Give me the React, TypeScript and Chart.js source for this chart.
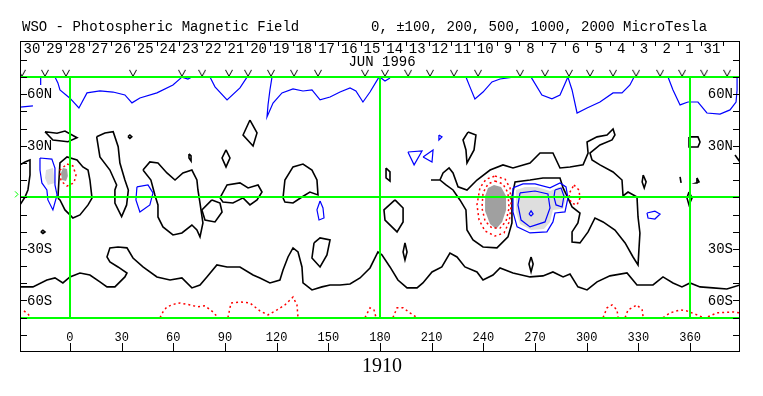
import React, { useEffect, useRef } from 'react';
import { Chart, registerables } from 'chart.js';
Chart.register(...registerables);

type P = [number, number];

// ---- axes / annotations ----
const titleLeft = 'WSO - Photospheric Magnetic Field';
const titleRight = '0, \u00b1100, 200, 500, 1000, 2000 MicroTesla';
const monthLabel = 'JUN 1996';
const rotationLabel = '1910';
const lonTicks = [0, 30, 60, 90, 120, 150, 180, 210, 240, 270, 300, 330, 360];
const latTicks = [-80, -70, -60, -50, -40, -30, -20, -10, 0, 10, 20, 30, 40, 50, 60, 70, 80];
const latLabelValues = [60, 30, -30, -60];
const latLabelTexts = ['60N', '30N', '30S', '60S'];
const gridLon = [0, 180, 360];
const gridLat = [70, 0, -70];
const dayLabels = [30, 29, 28, 27, 26, 25, 24, 23, 22, 21, 20, 19, 18, 17, 16, 15, 14, 13, 12, 11, 10, 9, 8, 7, 6, 5, 4, 3, 2, 1, 31];
const dayLabelLon = [-22.1, -8.9, 4.2, 17.4, 30.6, 43.7, 56.9, 70.0, 83.2, 96.4, 109.5, 122.7, 135.8, 149.0, 162.2, 175.3, 188.5, 201.6, 214.8, 228.0, 241.1, 254.3, 267.4, 280.6, 293.8, 306.9, 320.1, 333.2, 346.4, 359.6, 372.7];
const daySepLon = [-15.5, -2.3, 10.8, 24.0, 37.1, 50.3, 63.5, 76.6, 89.8, 102.9, 116.1, 129.3, 142.4, 155.6, 168.7, 181.9, 195.1, 208.2, 221.4, 234.5, 247.7, 260.9, 274.0, 287.2, 300.3, 313.5, 326.7, 339.8, 353.0, 366.1, 379.3];
const obsMarkLon = [-27.9, -14.5, -2.3, 36.6, 65.0, 76.7, 92.3, 103.4, 116.7, 130.1, 144.0, 171.3, 182.9, 196.3, 209.0, 222.9, 236.9, 261.3, 275.8, 289.7, 301.9, 315.3, 328.7, 342.6, 355.4, 368.2, 381.5];
const obsMarkLat = 72.5;

// ---- neutral lines (black) ----
const k1: P[] = [[-29, 18.9], [-26.1, 20.6], [-23.2, 21.8], [-23.2, 13], [-24.4, 4.3], [-26.1, 0.2], [-29, -4.4]];
const k2: P[] = [[-7, -0.4], [-5.8, 20], [-1.7, 23.5], [4.1, 21.8], [7.5, 17.7], [10.5, 15.9], [11.6, 10.1], [12.8, -0.4], [10.5, -4.4], [5.8, -10.2], [1.7, -12], [0, -10.2], [-2.9, -7.3], [-5.8, -1.5], [-7, -0.4]];
const k3: P[] = [[-14.5, 38.2], [-7.5, 37.3], [-2.9, 38.6], [4.1, 34.7], [-1.2, 32.4], [-9.9, 33.4], [-14.5, 38.2]];
const k4: P[] = [[33.7, 35.3], [34.8, 36.3], [35.9, 35.3], [34.8, 34.3], [33.7, 35.3]];
const k5: P[] = [[15.5, 35.3], [20.3, 37.5], [25.1, 38.2], [28, 29.5], [29, 20], [31.9, 10.1], [33.9, 4.3], [32.9, -4.4], [30, -11.2], [26.1, -3.3], [26.1, 4.3], [27.1, 7.2], [23.2, 15.9], [17.4, 23.5], [15.5, 35.3]];
const k6: P[] = [[42.4, 15.9], [47, 10.1], [49.3, 1.4], [51.1, -4.4], [51.1, -11.4], [54, -17.2], [59.8, -21.9], [65, -20.7], [70.8, -16.1], [73.7, -19], [75.5, -23], [77.2, -14.9], [75.5, -3.3], [74.3, 4.3], [73.7, 10.1], [70.8, 15.9], [65.6, 14.2], [61, 10.1], [56.3, 14.2], [51.1, 20], [46.4, 20.6], [42.4, 15.9]];
const k7: P[] = [[104.5, 45], [108.6, 37.5], [106.3, 29.9], [100.5, 36.3], [104.5, 45]];
const k8: P[] = [[90.6, 27.6], [92.9, 22.9], [90.6, 17.7], [88.3, 22.9], [90.6, 27.6]];
const k9: P[] = [[69.1, 25.3], [70.3, 24.1], [70.3, 21.2], [69.1, 22.9], [69.1, 25.3]];
const k10: P[] = [[87.1, -0.3], [91.2, 7.2], [98.7, 8.4], [103.4, 5.5], [109.2, 7.2], [111.5, 3.1], [108.6, -1.5], [104.5, -4.4], [100.5, -0.3], [94.6, -3.3], [88.8, -2.7], [87.1, -0.3]];
const k11: P[] = [[82.4, -1.5], [87.1, -3.3], [88.3, -8.5], [84.2, -14.3], [78.4, -13.2], [76.6, -7.3], [82.4, -1.5]];
const k12: P[] = [[123.7, -0.3], [124.8, 10.1], [129.5, 17.7], [135.3, 19.4], [140.5, 15.9], [143.4, 10.1], [144, 1.4], [139.3, 3.1], [134.7, 0.2], [129.5, -3.3], [124.8, -2.7], [123.7, -0.3]];
const k13: P[] = [[141.7, -26.5], [145.2, -23.6], [151, -24.8], [149.2, -33.5], [145.2, -40.5], [140.5, -35.3], [141.7, -26.5]];
const k14: P[] = [[183.5, 17.1], [185.8, 14.8], [185.8, 9.5], [183.5, 11.3], [183.5, 17.1]];
const k15: P[] = [[188.7, -1.5], [193.4, -6.2], [193.4, -14.3], [189.9, -20.1], [182.9, -13.2], [182.3, -7.3], [188.7, -1.5]];
const k16: P[] = [[194.5, -26.5], [195.7, -31.8], [194.5, -36.4], [193.4, -31.8], [194.5, -26.5]];
const k17: P[] = [[231.1, 38], [235.7, 36.3], [234.6, 27.6], [230.5, 20], [229.9, 27.6], [228.2, 33.4], [231.1, 38]];
const k18: P[] = [[209.6, 10.1], [214.8, 10.1], [216.6, 14.2], [220.1, 17.1], [222.4, 14.2], [225.3, 6.1], [230.5, 4.3], [236.3, 10.1], [243.9, 15.9], [251.4, 18.9], [257.2, 17.1], [267.1, 20], [272.9, 25.8], [280.4, 25.8], [284.5, 17.1], [290.3, 17.7], [297.9, 18.9], [300.8, 25.8], [300.2, 32.2], [306, 35.2], [311.8, 36.3], [315.3, 39.8], [316.4, 36.3], [314.7, 33.4], [307.7, 30.5], [301.9, 25.8], [303.1, 21.8], [307.7, 18.9], [315.3, 14.8], [320.5, 10.1], [321.1, 0.8], [324, 3.1], [329.2, 0.2], [329.8, -11.4], [330.9, -20.7], [329.8, -39.3], [326.9, -34.7], [322.3, -26.5], [316.4, -19], [309.5, -14.3], [304.8, -12], [300.8, -20.1], [296.1, -26.5], [291.5, -26], [291.5, -20.1], [294.9, -14.9], [296.1, -9.1], [291.5, -5.6], [289.1, -0.3], [286.3, 5.5], [284.5, 11.3], [274.6, 11.3], [267.1, 10.1], [258.4, 9], [256.6, 0.2], [256.6, -14.9], [254.3, -23], [247.9, -29.4], [239.8, -28.9], [234, -24.8], [230.5, -19], [229.9, -7.3], [226.4, -1.5], [222.4, 4.3], [218.3, 7.2], [214.8, 10.1], [209.6, 10.1]];
const k19: P[] = [[267.7, -34.7], [268.9, -38.8], [267.7, -43.4], [266.5, -38.8], [267.7, -34.7]];
const k20: P[] = [[332.8, 13], [334.5, 9], [333.4, 5.5], [332.2, 9], [332.8, 13]];
const k21: P[] = [[354.2, 11.9], [354.8, 8.4]];
const k22: P[] = [[364, 11.3], [365.2, 9], [363.5, 8.4], [364, 11.3]];
const k23: P[] = [[359.4, 35.2], [364.6, 35.2], [365.8, 32.2], [364.6, 29.3], [359.4, 29.3], [359.4, 35.2]];
const k24: P[] = [[359.4, 3.1], [361.2, -0.3], [359.4, -4.4], [358.2, -0.3], [359.4, 3.1]];
const k25: P[] = [[386.1, 24.7], [389, 20.6]];
const k26: P[] = [[-16.9, -20.1], [-15.7, -19.2], [-14.5, -20.1], [-15.7, -21], [-16.9, -20.1]];
const k27: P[] = [[-29, -52.1], [-21.5, -52.1], [-13.4, -48.1], [-8.7, -46.9], [-4.1, -49.8], [0, -46.3], [5.8, -44], [11.6, -45.2], [17.4, -49.2], [21.5, -52.1], [26.1, -52.1], [31.9, -46.3], [33.1, -44], [27.9, -40.5], [23.2, -37.6], [21.5, -34.7], [23.2, -29.4], [27.9, -28.9], [33.1, -29.4], [36.6, -35.3], [42.4, -40.5], [50.5, -46.3], [58.1, -48.1], [65, -46.9], [70.8, -52.7], [75.5, -51], [79.5, -46.3], [85.3, -39.3], [91.2, -40.5], [98.7, -40.5], [106.3, -45.2], [110.3, -46.9], [116.1, -49.8], [121.9, -48.1], [123.7, -42.3], [126.6, -34.7], [129.5, -29.4], [132.4, -31.8], [134.7, -40.5], [135.3, -49.8], [140.5, -53.9], [146.3, -52.1], [151, -51], [156.8, -51], [162.6, -50.4], [168.4, -46.9], [174.2, -41.1], [178.8, -31.8], [181.1, -33.5], [185.8, -40.5], [190.4, -48.1], [195.7, -52.7], [201.5, -52.7], [204.9, -49.8], [210.2, -43.4], [215.9, -40.5], [220.6, -32.4], [224.7, -34.7], [229.3, -40.5], [236.3, -43.4], [239.8, -48.1], [245.6, -45.2], [249.7, -41.1], [257.2, -44], [267.1, -46.3], [274.6, -45.7], [280.4, -43.4], [286.3, -46.3], [290.3, -44.6], [294.9, -52.1], [300.2, -53.9], [306, -49.2], [313.5, -45.7], [323.4, -44], [329.2, -51], [338.5, -51], [344.3, -46.3], [350.1, -49.8], [355.3, -52.1], [360, -49.8], [365.8, -52.1], [373.3, -52.7], [381.4, -53.3], [389, -51]];

// ---- positive contours (blue) ----
const b1: P[] = [[-29, 52.5], [-21.5, 53.2]];
const b2: P[] = [[-17, 70], [-17, 65.4]];
const b3: P[] = [[-8.7, 70], [-7, 66.6], [-5.8, 62.5], [0, 57.7], [5.2, 52], [9.9, 60.8], [17.4, 62], [25, 61.3], [31.9, 59.6], [36, 55], [40.6, 57.8], [50.5, 60.8], [59.8, 65.4], [65, 70]];
const b4: P[] = [[65, 70], [68.5, 68.8], [70.8, 70]];
const b5: P[] = [[81.3, 70], [84.2, 64.3], [91.2, 56.7], [98.7, 63.7], [102.8, 70]];
const b6: P[] = [[117.3, 70], [116.1, 62.5], [115, 53.8], [114.4, 46.8], [117.9, 54.9], [123.1, 60.8], [129.5, 63.1], [135.3, 61.9], [140.5, 62.5], [145.2, 56.7], [151, 58.4], [156.8, 61.3], [162.6, 63.7], [166, 61.9], [170.1, 55.5], [174.2, 61.3], [179.4, 70]];
const b7: P[] = [[180.6, 69.5], [182.9, 67.7], [185.8, 69.5]];
const b8: P[] = [[229.9, 70], [232.2, 64.3], [235.1, 57.3], [239.8, 61.3], [245, 67.2], [249.7, 68.9], [257.2, 70]];
const b9: P[] = [[267.7, 70], [274, 59.6], [279.8, 57.3], [284.5, 59.6], [289.1, 70]];
const b10: P[] = [[289.1, 70], [291.5, 62.5], [294.4, 49.1], [300.2, 52], [307.7, 55.5], [315.3, 60.8], [320.5, 60.8], [325.1, 65.4], [327.5, 70]];
const b11: P[] = [[347.2, 70], [350.1, 62.5], [354.2, 53.8], [358.8, 55.5], [364.6, 55.5], [369.8, 49.1], [377.4, 48.5], [383.2, 50.9], [386.7, 55.5], [387.3, 62.5], [387.3, 70]];
const b12: P[] = [[-17.4, 22.9], [-10.5, 22.3], [-8.7, 17.1], [-8.7, 7.2], [-7.5, 1.4], [-9.9, -7.3], [-12.8, -1.5], [-13.4, 4.3], [-16.3, 8.4], [-17.4, 15.9], [-17.4, 22.9]];
const b13: P[] = [[38.9, 6.1], [45.3, 7.2], [48.2, 2.6], [46.4, -4.4], [40.6, -8.5], [38.3, -1.5], [38.9, 6.1]];
const b14: P[] = [[145.2, -2.1], [146.9, -6.2], [147.5, -12], [144.6, -13.2], [143.4, -7.3], [145.2, -2.1]];
const b15: P[] = [[196.2, 26.4], [204.4, 27], [199.8, 18.9], [196.2, 26.4]];
const b16: P[] = [[205, 23.5], [210.8, 27.6], [210.2, 20.6], [205, 23.5]];
const b17: P[] = [[214.2, 36.3], [216, 35.2], [214.2, 33.4], [214.2, 36.3]];
const b18: P[] = [[335, -9.1], [339.6, -8], [342.6, -9.7], [339.6, -12.6], [335.6, -12], [335, -9.1]];
const b19: P[] = [[257.2, 5.5], [263, 7.8], [270, 7.8], [278.7, 5.5], [284.5, 8.4], [288, 6.1], [289.1, -0.3], [287.4, -8.5], [281.6, -9.1], [280.4, -14.3], [276.9, -20.1], [267.1, -20.7], [259.6, -17.2], [257.2, -8.5], [257.2, 1.4], [257.2, 5.5]];
const b20: P[] = [[261.3, 2.6], [270, 3.7], [277.5, 2], [278.7, -6.2], [275.8, -14.3], [267.1, -17.2], [261.9, -13.2], [260.1, -4.4], [261.3, 2.6]];
const b21: P[] = [[281.6, 4.3], [285.1, 5.5], [286.8, 0.8], [285.7, -5.6], [282.2, -4.4], [281, 0.2], [281.6, 4.3]];
const b22: P[] = [[266.5, -9.7], [267.7, -7.9], [268.9, -9.7], [267.7, -10.8], [266.5, -9.7]];

// ---- negative contours (red, dotted) ----
const r1: P[] = [[246.8, 12.4], [252.6, 10.6], [255.5, 5.5], [256.1, -5], [255, -14.3], [252, -20.7], [246.8, -22.5], [241, -19.6], [237.5, -13.2], [236.3, -4.4], [238, 5.5], [241.6, 10.6], [246.8, 12.4]];
const r2: P[] = [[246.8, 9.5], [251.4, 7.8], [254.3, 2.6], [254.9, -6.2], [253.2, -13.8], [249.7, -17.9], [245, -17.9], [241, -13.8], [239.2, -6.2], [239.8, 2.6], [242.7, 7.8], [246.8, 9.5]];
const r3: P[] = [[292.6, 7.2], [295.5, 4.3], [296.1, -0.3], [294.4, -4.4], [290.9, -3.3], [289.7, 2], [292.6, 7.2]];
const r4: P[] = [[-1.7, 19.4], [1.7, 18.3], [3.5, 13], [2.3, 8.4], [-1.7, 6.6], [-5.2, 9.5], [-5.8, 15.9], [-1.7, 19.4]];
const r5: P[] = [[-26.7, -66.1], [-24.4, -67.9], [-22.6, -70]];
const r6: P[] = [[52.3, -70], [54, -66.7], [56.3, -63.7], [61, -62], [63.9, -61.5], [69.7, -62.6], [74.3, -63.7], [78.4, -63.1], [83, -66.7], [86, -70]];
const r7: P[] = [[91.7, -70], [93.5, -61.5], [98.7, -60.9], [104.5, -61.5], [110.3, -66.1], [115, -68.4], [120.2, -65.5], [124.8, -62.6], [129.5, -58], [131.8, -62.6], [132.4, -70]];
const r8: P[] = [[171.3, -70], [174.2, -64.3], [176.5, -65.5], [177.7, -70]];
const r9: P[] = [[187.5, -70], [189.9, -64.3], [193.4, -64.3], [197.4, -67.2], [201.5, -70]];
const r10: P[] = [[309.5, -70], [311.8, -64.3], [314.7, -62.6], [317.6, -65.5], [318.2, -70]];
const r11: P[] = [[322.3, -70], [324, -65.5], [329.2, -62.6], [332.2, -65.5], [332.8, -70]];
const r12: P[] = [[344.3, -70], [348.4, -67.2], [354.2, -65.5], [358.2, -66.1], [364, -68.4], [367.6, -70]];
const r13: P[] = [[370.4, -69.5], [375.7, -67.2], [385, -66.7], [389, -67.2]];

// ---- shaded regions ----
const posShade1: P[] = [[-13.9, 15.9], [-9.9, 17.1], [-8.7, 8.4], [-12.8, 7.2], [-14.5, 11.3]];
const posShade2: P[] = [[259, 4.3], [264.2, 6.1], [271.2, 6.1], [278.7, 3.7], [283.9, 6.1], [286.8, 4.3], [288, -0.3], [286.3, -6.6], [280.4, -7.3], [278.7, -14.3], [275.2, -18.4], [267.7, -19], [261.3, -15.5], [259, -8.5]];
const negShade1: P[] = [[-4.1, 17.1], [-1.7, 16.5], [-1.2, 12.5], [-2.3, 9.5], [-4.6, 10.1], [-5.2, 14.2]];
const negShade2: P[] = [[246.2, 7.2], [250.3, 6.1], [253.2, 0.8], [253.2, -7.3], [250.9, -14.3], [247.4, -18.4], [243.9, -15.5], [241, -7.9], [241, 0.8], [242.7, 5.5]];

const neutralLines = [k1, k2, k3, k4, k5, k6, k7, k8, k9, k10, k11, k12, k13, k14, k15, k16, k17, k18, k19, k20, k21, k22, k23, k24, k25, k26, k27];
const positiveLines = [b1, b2, b3, b4, b5, b6, b7, b8, b9, b10, b11, b12, b13, b14, b15, b16, b17, b18, b19, b20, b21, b22];
const negativeLines = [r1, r2, r3, r4, r5, r6, r7, r8, r9, r10, r11, r12, r13];
const posShades = [posShade1, posShade2];
const negShades = [negShade1, negShade2];

const MONO = '"Liberation Mono", "DejaVu Sans Mono", monospace';

const toXY = (pts: P[]) => pts.map(([x, y]) => ({ x, y }));

const lineDs = (pts: P[], color: string, width: number, dash: number[] = []) => ({
  data: toXY(pts),
  showLine: true,
  borderColor: color,
  borderWidth: width,
  borderDash: dash,
  pointRadius: 0,
  pointHoverRadius: 0,
  fill: false,
  tension: 0,
});

const shadeDs = (pts: P[], color: string) => ({
  data: toXY(pts),
  showLine: false,
  pointRadius: 0,
  pointHoverRadius: 0,
  polyFill: color,
});

const decoPlugin = {
  id: 'deco',
  beforeDatasetsDraw(chart: any) {
    const ctx = chart.ctx;
    ctx.save();
    chart.data.datasets.forEach((ds: any, i: number) => {
      if (!ds.polyFill) return;
      const meta = chart.getDatasetMeta(i);
      ctx.beginPath();
      meta.data.forEach((p: any, j: number) => (j ? ctx.lineTo(p.x, p.y) : ctx.moveTo(p.x, p.y)));
      ctx.closePath();
      ctx.fillStyle = ds.polyFill;
      ctx.fill();
    });
    ctx.restore();
  },
  afterDatasetsDraw(chart: any) {
    const { ctx, chartArea: a, scales } = chart;
    const xs = scales.x, ys = scales.y;
    ctx.save();
    ctx.strokeStyle = '#00ff00';
    ctx.lineWidth = 2;
    gridLat.forEach((lat) => {
      const py = Math.round(ys.getPixelForValue(lat));
      ctx.beginPath(); ctx.moveTo(a.left, py); ctx.lineTo(a.right, py); ctx.stroke();
    });
    const yTop = ys.getPixelForValue(gridLat[0]);
    const yBot = ys.getPixelForValue(gridLat[2]);
    gridLon.forEach((lon) => {
      const px = Math.round(xs.getPixelForValue(lon));
      ctx.beginPath(); ctx.moveTo(px, yTop); ctx.lineTo(px, yBot); ctx.stroke();
    });
    // small marker at the equator outside the frame
    const eq = ys.getPixelForValue(0);
    ctx.lineWidth = 1;
    ctx.beginPath(); ctx.moveTo(a.left - 5, eq - 6); ctx.lineTo(a.left - 2, eq - 3); ctx.lineTo(a.left - 5, eq); ctx.stroke();
    ctx.restore();
  },
  afterDraw(chart: any) {
    const { ctx, chartArea: a, scales } = chart;
    const xs = scales.x, ys = scales.y;
    ctx.save();
    ctx.strokeStyle = '#000';
    ctx.fillStyle = '#000';
    ctx.lineWidth = 1;
    ctx.strokeRect(a.left + 0.5, a.top + 0.5, a.right - a.left - 1, a.bottom - a.top - 1);

    // latitude ticks both sides
    latTicks.forEach((lat) => {
      const py = Math.round(ys.getPixelForValue(lat)) + 0.5;
      ctx.beginPath();
      ctx.moveTo(a.left, py); ctx.lineTo(a.left + 7, py);
      ctx.moveTo(a.right - 7, py); ctx.lineTo(a.right, py);
      ctx.stroke();
    });
    // longitude ticks along the bottom
    lonTicks.forEach((lon) => {
      const px = Math.round(xs.getPixelForValue(lon)) + 0.5;
      ctx.beginPath(); ctx.moveTo(px, a.bottom); ctx.lineTo(px, a.bottom - 9); ctx.stroke();
    });
    // day separators along the top
    daySepLon.forEach((lon) => {
      const px = Math.round(xs.getPixelForValue(lon)) + 0.5;
      ctx.beginPath(); ctx.moveTo(px, a.top); ctx.lineTo(px, a.top + 5); ctx.stroke();
    });

    ctx.font = `14px ${MONO}`;
    ctx.textBaseline = 'middle';
    ctx.textAlign = 'left';
    ctx.fillText(titleLeft, 22, 27.5);
    ctx.fillText(titleRight, 371, 27.5);

    ctx.textAlign = 'center';
    dayLabels.forEach((d, i) => {
      ctx.fillText(String(d), xs.getPixelForValue(dayLabelLon[i]), a.top + 8);
    });
    ctx.fillText(monthLabel, 382, a.top + 21.5);

    latLabelValues.forEach((lat, i) => {
      const py = ys.getPixelForValue(lat) + 0.5;
      ctx.textAlign = 'left';
      ctx.fillText(latLabelTexts[i], a.left + 7, py);
      ctx.textAlign = 'right';
      ctx.fillText(latLabelTexts[i], a.right - 7, py);
    });

    ctx.textAlign = 'center';
    ctx.font = `12px ${MONO}`;
    lonTicks.forEach((lon) => {
      ctx.fillText(String(lon), xs.getPixelForValue(lon), a.bottom - 14);
    });

    ctx.font = '20px "Liberation Serif", "DejaVu Serif", serif';
    ctx.fillText(rotationLabel, 382, a.bottom + 15);
    ctx.restore();
  },
};

export default function App() {
  const ref = useRef<HTMLCanvasElement | null>(null);
  useEffect(() => {
    if (!ref.current) return;
    const vMark = document.createElement('canvas');
    vMark.width = 8; vMark.height = 8;
    const vc = vMark.getContext('2d')!;
    vc.strokeStyle = '#000'; vc.lineWidth = 1;
    vc.beginPath(); vc.moveTo(0.5, 1); vc.lineTo(4, 7.5); vc.lineTo(7.5, 1); vc.stroke();

    const datasets: any[] = [];
    posShades.forEach((s) => datasets.push(shadeDs(s, '#dedede')));
    negShades.forEach((s) => datasets.push(shadeDs(s, '#a0a0a0')));
    negativeLines.forEach((l) => datasets.push(lineDs(l, '#ff0000', 1.5, [2, 3])));
    positiveLines.forEach((l) => datasets.push(lineDs(l, '#0000ff', 1.2)));
    neutralLines.forEach((l) => datasets.push(lineDs(l, '#000000', 1.6)));
    datasets.push({
      data: obsMarkLon.map((x) => ({ x, y: obsMarkLat })),
      showLine: false,
      pointStyle: vMark,
      pointRadius: 4,
      pointHoverRadius: 4,
    });

    const chart = new Chart(ref.current, {
      type: 'scatter',
      data: { datasets },
      options: {
        animation: false,
        responsive: false,
        events: [],
        layout: { padding: { left: 20, right: 23, top: 41, bottom: 44 } },
        plugins: { legend: { display: false }, tooltip: { enabled: false }, title: { display: false } },
        scales: {
          x: { type: 'linear', min: -29, max: 389, display: false },
          y: { type: 'linear', min: -90, max: 91, display: false },
        },
      },
      plugins: [decoPlugin],
    } as any);
    return () => chart.destroy();
  }, []);
  return (
    <div style={{ position: 'absolute', left: 0, top: 0, width: 763, height: 396, background: '#fff' }}>
      <canvas ref={ref} width={763} height={396} style={{ display: 'block' }} />
    </div>
  );
}
